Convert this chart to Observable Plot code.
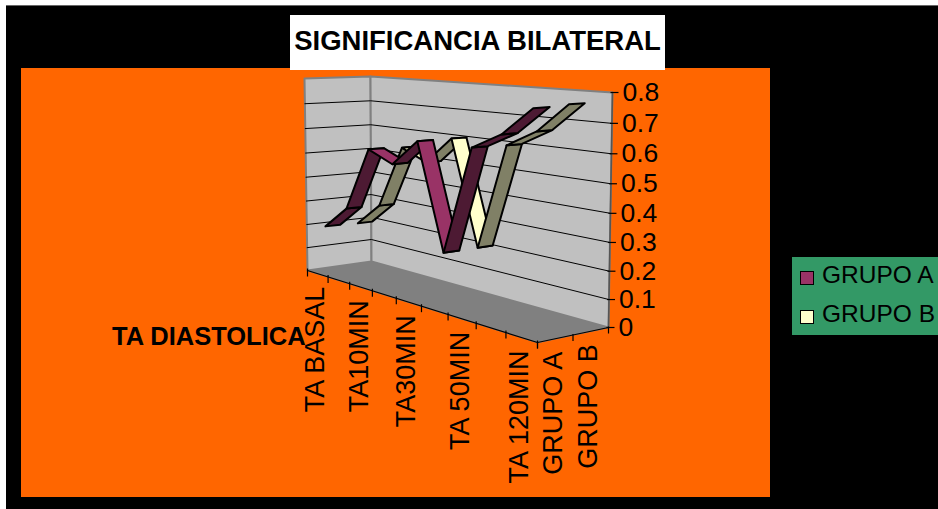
<!DOCTYPE html>
<html>
<head>
<meta charset="utf-8">
<script src="https://cdn.jsdelivr.net/npm/d3@7"></script>
<script src="https://cdn.jsdelivr.net/npm/@observablehq/plot@0.6"></script>
<style>
  html, body { margin: 0; padding: 0; background: #fff; }
  #sheet { position: relative; width: 938px; height: 509px; overflow: hidden; font-family: "Liberation Sans", Arial, sans-serif; color: #000; }
  #frame { position: absolute; left: 6px; top: 5px; right: 0; bottom: 0; background: #000; border-top: 1px solid #666; box-sizing: border-box; }
  #panel { position: absolute; left: 21px; top: 68px; width: 749px; height: 429px; background: #ff6600; }
  #title { position: absolute; left: 290px; top: 15px; width: 375px; height: 55px; background: #fff; font-weight: bold; font-size: 27.5px; line-height: 52px; text-align: center; white-space: nowrap; }
  #sideLabel { position: absolute; left: 112px; top: 321px; font-weight: bold; font-size: 25.5px; line-height: 30px; white-space: nowrap; }
  #legend { position: absolute; left: 792px; top: 257px; width: 146px; height: 78px; background: #339966; font-size: 24.5px; }
  .entry { position: absolute; left: 30px; line-height: 28px; white-space: nowrap; }
  .swatch { position: absolute; left: 8px; width: 12px; height: 12px; border: 1.5px solid #000; }
  #plot { position: absolute; left: 0; top: 0; }
  #plot svg { background: transparent; display: block; }
</style>
</head>
<body>
<div id="sheet">
  <div id="frame"></div>
  <div id="panel"></div>
  <div id="title">SIGNIFICANCIA BILATERAL</div>
  <div id="plot"></div>
  <div id="sideLabel">TA DIASTOLICA</div>
  <div id="legend"></div>
</div>
<script>
// Readings per time point, nine points along the category axis.
const categories = ["TA BASAL", "TA5MIN", "TA10MIN", "TA20MIN", "TA30MIN", "TA40MIN", "TA 50MIN", "TA60MIN", "TA 120MIN"];
const shownCategories = ["TA BASAL", "TA10MIN", "TA30MIN", "TA 50MIN", "TA 120MIN"];
const grupoA = [0.199, 0.2945, 0.547, 0.5046, 0.6035, 0.2118, 0.6075, 0.6645, 0.760];
const grupoB = [0.196, 0.292, 0.543, 0.5007, 0.6035, 0.2118, 0.6045, 0.6645, 0.764];
const seriesNames = ["GRUPO A", "GRUPO B"];
const valueTicks = [0, 0.1, 0.2, 0.3, 0.4, 0.5, 0.6, 0.7, 0.8];
const valueMax = 0.8;

// Ribbon extents along the depth axis (0 = front, 1 = back).
const ribbonDepth = {"GRUPO A": [0.13, 0.36], "GRUPO B": [0.63, 0.85]};
const ribbonColors = {
  "GRUPO A": {falling: "#993366", rising: "#4d1a33"},
  "GRUPO B": {falling: "#ffffcc", rising: "#808066"}
};

// Corners of the 3D box on screen, keyed by position.
const box = {
  fbl: [307, 270], fbr: [537, 342], bbl: [371, 261], bbr: [608, 327],
  ftl: [304, 78],  ftr: [540, 97],  btl: [370, 76],  btr: [612, 92]
};
const foreshortenAlong = 0.786;
const foreshortenUp = 0.945;

// Perspective: spacing grows towards the viewer and towards the top.
const persp = (a, u) => a * u / (1 + (a - 1) * u);
const mix = (a, b, k) => a + (b - a) * k;
function project(u, w, v) {
  const t = persp(foreshortenAlong, u), h = persp(foreshortenUp, v / valueMax);
  return [0, 1].map((i) => {
    const bottom = mix(mix(box.fbl[i], box.fbr[i], t), mix(box.bbl[i], box.bbr[i], t), w);
    const top = mix(mix(box.ftl[i], box.ftr[i], t), mix(box.btl[i], box.btr[i], t), w);
    return mix(bottom, top, h);
  });
}
const catU = (i) => (i + 0.5) / categories.length;
const pt = (u, w, v) => { const [x, y] = project(u, w, v); return {x, y}; };

// Walls and floor of the box.
const shape = (id, corners) => corners.map(([u, w, v]) => ({id, ...pt(u, w, v)}));
const floor = shape("floor", [[0,0,0],[1,0,0],[1,1,0],[0,1,0]]);
const walls = [
  ...shape("side", [[0,0,0],[0,1,0],[0,1,valueMax],[0,0,valueMax]]),
  ...shape("back", [[0,1,0],[1,1,0],[1,1,valueMax],[0,1,valueMax]])
];
const grid = valueTicks.slice(1, -1).flatMap((v) =>
  shape(v, [[0,0,v],[0,1,v],[1,1,v]]));

// One quad per segment, coloured by whether the ribbon climbs or drops.
const ribbonMarks = [];
[["GRUPO B", grupoB], ["GRUPO A", grupoA]].forEach(([name, values]) => {
  const [w0, w1] = ribbonDepth[name];
  for (let i = 0; i < values.length - 1; i++) {
    const a = catU(i), b = catU(i + 1);
    const quad = [pt(a, w0, values[i]), pt(b, w0, values[i + 1]), pt(b, w1, values[i + 1]), pt(a, w1, values[i])];
    const color = ribbonColors[name][values[i + 1] < values[i] ? "falling" : "rising"];
    ribbonMarks.push(Plot.line(quad, {x: "x", y: "y", curve: "linear-closed", fill: color, stroke: "#000", strokeWidth: 2, strokeLinejoin: "round"}));
  }
});

// Tick stubs along the three visible axes.
const catTicks = d3.range(categories.length + 1).map((i) => {
  const p = pt(i / categories.length, 0, 0);
  return {x1: p.x, y1: p.y - 2, x2: p.x, y2: p.y + 6};
});
const depthTicks = d3.range(seriesNames.length + 1).map((i) => {
  const p = pt(1, i / seriesNames.length, 0);
  return {x1: p.x, y1: p.y - 1, x2: p.x, y2: p.y + 6};
});
const valueTickStubs = valueTicks.map((v) => {
  const p = pt(1, 1, v);
  return {x1: p.x - 2, y1: p.y, x2: p.x + 6, y2: p.y};
});

const catLabels = shownCategories.map((name) => {
  const p = pt(catU(categories.indexOf(name)), 0, 0);
  return {name, ...p};
});
const depthLabels = seriesNames.map((name, i) => {
  const p = pt(1, (i + 0.5) / seriesNames.length, 0);
  return {name, ...p};
});
const valueLabels = valueTicks.map((v) => ({v, ...pt(1, 1, v)}));

const chart = Plot.plot({
  width: 938,
  height: 509,
  margin: 0,
  x: {domain: [0, 938], range: [0, 938], axis: null},
  y: {domain: [0, 509], range: [0, 509], axis: null},
  style: {background: "transparent", fontFamily: "'Liberation Sans', Arial, sans-serif"},
  marks: [
    Plot.line(floor, {x: "x", y: "y", curve: "linear-closed", fill: "#808080", stroke: "#808080"}),
    Plot.line(walls, {x: "x", y: "y", z: "id", curve: "linear-closed", fill: "#c0c0c0", stroke: "#808080", strokeWidth: 2}),
    Plot.line(grid, {x: "x", y: "y", z: "id", stroke: "#000", strokeWidth: 1}),
    ...ribbonMarks,
    Plot.line(shape("edge", [[0,0,0],[1,0,0],[1,1,0]]), {x: "x", y: "y", stroke: "#000", strokeWidth: 1.2}),
    Plot.line(shape("axis", [[1,1,0],[1,1,valueMax]]), {x: "x", y: "y", stroke: "#555", strokeWidth: 1.5}),
    Plot.link(catTicks, {x1: "x1", y1: "y1", x2: "x2", y2: "y2", stroke: "#000", strokeWidth: 1.2}),
    Plot.link(depthTicks, {x1: "x1", y1: "y1", x2: "x2", y2: "y2", stroke: "#000", strokeWidth: 1.2}),
    Plot.link(valueTickStubs, {x1: "x1", y1: "y1", x2: "x2", y2: "y2", stroke: "#000", strokeWidth: 1.2}),
    Plot.text(catLabels, {x: "x", y: "y", text: "name", rotate: -90, textAnchor: "end", dx: -2, dy: 13, fontSize: 27, fill: "#000"}),
    Plot.text(depthLabels, {x: "x", y: "y", text: "name", rotate: -90, textAnchor: "end", dx: -2, dy: 13, fontSize: 27, fill: "#000"}),
    Plot.text(valueLabels, {x: "x", y: "y", text: (d) => String(d.v), textAnchor: "start", dx: 10, fontSize: 26.5, fill: "#000"})
  ]
});
document.getElementById("plot").append(chart);

// Legend entries, one per series.
const legend = document.getElementById("legend");
seriesNames.forEach((name, i) => {
  const top = 4 + i * 39;
  const swatch = document.createElement("div");
  swatch.className = "swatch";
  swatch.style.top = (top + 10) + "px";
  swatch.style.background = ribbonColors[name].falling;
  const label = document.createElement("div");
  label.className = "entry";
  label.style.top = top + "px";
  label.textContent = name;
  legend.append(swatch, label);
});
</script>
</body>
</html>
